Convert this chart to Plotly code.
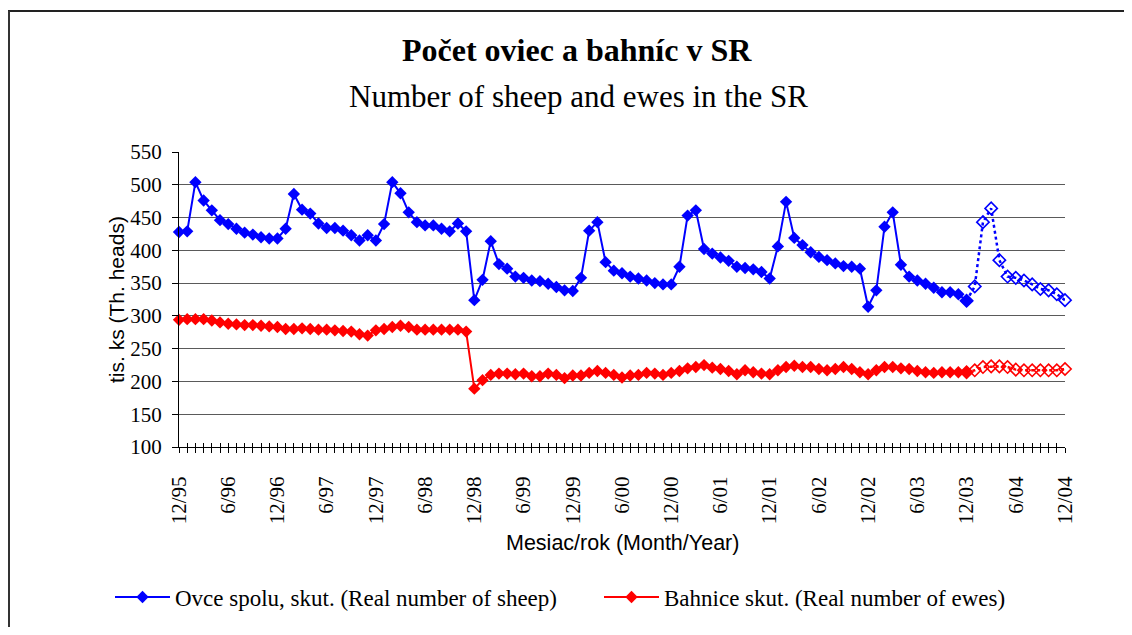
import plotly.graph_objects as go

# ---- data (thousand heads), monthly 12/95 .. 12/04 ----
sheep_actual = [428, 429, 504, 476, 461, 446, 440, 433, 427, 424, 420, 418,
                418, 433, 486, 462, 456, 441, 434, 434, 430, 423, 415, 423,
                415, 440, 504, 487, 458, 443, 438, 438, 433, 429, 441, 429,
                324, 355, 414, 379, 372, 360, 358, 354, 353, 349, 344, 339,
                338, 358, 430, 443, 382, 369, 365, 360, 357, 354, 350, 348,
                348, 375, 453, 461, 402, 395, 389, 384, 375, 373, 371, 367,
                357, 406, 474, 419, 408, 397, 390, 385, 380, 376, 375, 372,
                314, 339, 436, 458, 378, 360, 354, 349, 343, 336, 336, 333,
                323]
sheep_forecast = [345, 443, 464, 385, 360, 358, 354, 348, 341, 339, 333, 324]

ewes_actual = [294, 295, 295, 295, 293, 290, 288, 287, 286, 286, 285, 284,
               283, 280, 280, 281, 280, 279, 279, 278, 277, 276, 272, 270,
               278, 280, 283, 285, 283, 279, 279, 279, 279, 279, 279, 276,
               189, 202, 210, 212, 212, 211, 212, 208, 208, 212, 210, 205,
               209, 209, 213, 216, 213, 210, 206, 209, 210, 213, 212, 210,
               213, 216, 220, 222, 225, 221, 219, 216, 211, 217, 214, 212,
               211, 217, 222, 224, 222, 222, 219, 217, 219, 222, 219, 214,
               211, 217, 222, 222, 220, 219, 216, 214, 213, 214, 214, 214,
               214]
ewes_forecast = [217, 222, 223, 223, 222, 218, 217, 217, 217, 217, 217, 219]

n_total = len(sheep_actual) + len(sheep_forecast)
months = []
for idx in range(n_total):
    m = 12 + idx
    months.append(f"{(m - 1) % 12 + 1}/{(95 + (m - 1) // 12) % 100:02d}")

label_step = 6
x_all = list(range(n_total))
x_act = x_all[:len(sheep_actual)]
x_fc = x_all[len(sheep_actual) - 1:]          # forecast starts at last actual point
tick_text = [months[i] if i % label_step == 0 else "" for i in x_all]

BLUE = "#0000FF"
RED = "#FF0000"
SERIF = "Liberation Serif, Times New Roman, serif"
SANS = "Liberation Sans, Arial, sans-serif"

fig = go.Figure()
fig.add_trace(go.Scatter(
    x=x_act, y=sheep_actual, mode="lines+markers", cliponaxis=False,
    name="Ovce spolu, skut. (Real number of sheep)",
    line=dict(color=BLUE, width=2),
    marker=dict(symbol="diamond", size=9.5, color=BLUE)))
fig.add_trace(go.Scatter(
    x=x_act, y=ewes_actual, mode="lines+markers", cliponaxis=False,
    name="Bahnice skut. (Real number of ewes)",
    line=dict(color=RED, width=2),
    marker=dict(symbol="diamond", size=9.5, color=RED)))

fc_symbols = ["diamond"] + ["diamond-open"] * len(sheep_forecast)
fig.add_trace(go.Scatter(
    x=x_fc, y=[sheep_actual[-1]] + sheep_forecast, mode="lines+markers",
    showlegend=False, cliponaxis=False,
    line=dict(color=BLUE, width=2.5, dash="dot"),
    marker=dict(symbol=fc_symbols, size=9.5, color=BLUE, line=dict(width=1.6, color=BLUE))))
fig.add_trace(go.Scatter(
    x=x_fc, y=[ewes_actual[-1]] + ewes_forecast, mode="lines+markers",
    showlegend=False, cliponaxis=False,
    line=dict(color=RED, width=2.5, dash="dot"),
    marker=dict(symbol=fc_symbols, size=9.5, color=RED, line=dict(width=1.6, color=RED))))
# helper trace for the inner half of the month ticks
fig.add_trace(go.Scatter(x=[], y=[], xaxis="x2", showlegend=False, hoverinfo="skip"))

# target positions in screen pixels (page has an 8px body margin)
OFF = 8
SL, SR, ST, SB = 179, 1065, 152, 447
W, H = 1132 - 2 * OFF, 635 - 2 * OFF
def px(x): return (x - SL) / (SR - SL)
def py(y): return (SB - y) / (SB - ST)

fig.update_layout(
    width=W, height=H,
    margin=dict(l=SL - OFF, r=W - (SR - OFF), t=ST - OFF, b=H - (SB - OFF), autoexpand=False),
    paper_bgcolor="white", plot_bgcolor="white",
    showlegend=True,
    legend=dict(orientation="h", x=px(110), xanchor="left", y=py(597), yanchor="middle",
                font=dict(family=SERIF, size=23, color="black"),
                itemwidth=55, entrywidth=419, entrywidthmode="pixels",
                bgcolor="rgba(0,0,0,0)"),
    xaxis=dict(range=[0, n_total - 1], tickmode="array", tickvals=x_all, ticktext=tick_text,
               tickangle=-90, ticks="outside", ticklen=5, tickcolor="black", tickwidth=1,
               showline=True, linecolor="black", linewidth=1, showgrid=False, zeroline=False,
               tickfont=dict(family=SERIF, size=21, color="black"), ticklabelstandoff=15),
    xaxis2=dict(range=[0, n_total - 1], overlaying="x", anchor="y", side="bottom",
                tickmode="array", tickvals=x_all, ticks="inside", ticklen=4,
                tickcolor="black", showticklabels=False, showline=False, showgrid=False,
                zeroline=False),
    yaxis=dict(range=[100, 550], dtick=50, tick0=100, ticks="outside", ticklen=6,
               tickcolor="black", showline=True, linecolor="black", linewidth=1,
               showgrid=True, gridcolor="#5a5a5a", gridwidth=1, zeroline=False,
               tickfont=dict(family=SERIF, size=21, color="black"), ticklabelstandoff=6),
    hovermode=False,
    annotations=[
        dict(text="<b>Počet oviec a bahníc v SR</b>", xref="paper", yref="paper",
             x=px(577), y=py(50), xanchor="center", yanchor="middle", showarrow=False,
             font=dict(family=SERIF, size=32, color="black")),
        dict(text="Number of sheep and ewes in the SR", xref="paper", yref="paper",
             x=px(578), y=py(96), xanchor="center", yanchor="middle", showarrow=False,
             font=dict(family=SERIF, size=31, color="black")),
        dict(text="tis. ks (Th. heads)", xref="paper", yref="paper",
             x=px(116), y=py(300), xanchor="center", yanchor="middle", showarrow=False,
             textangle=-90, font=dict(family=SANS, size=21, color="black")),
        dict(text="Mesiac/rok (Month/Year)", xref="paper", yref="paper",
             x=px(622), y=py(543), xanchor="center", yanchor="middle", showarrow=False,
             font=dict(family=SANS, size=21.5, color="black")),
    ],
    shapes=[
        dict(type="line", xref="paper", yref="paper", x0=px(8), x1=px(1140),
             y0=py(11), y1=py(11), line=dict(color="#222", width=2)),
        dict(type="line", xref="paper", yref="paper", x0=px(9), x1=px(9),
             y0=py(11), y1=py(645), line=dict(color="#333", width=2)),
    ],
)

fig.write_html("out.html")
